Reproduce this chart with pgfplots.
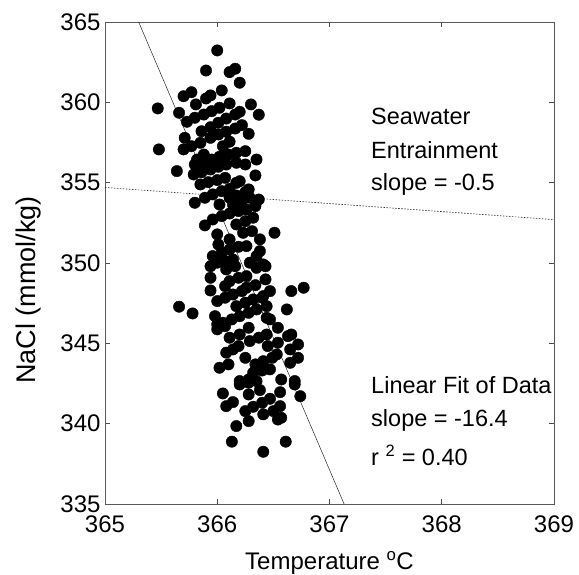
\documentclass[border=0pt]{standalone}
\usepackage{fontspec}
\setmainfont{Liberation Sans}
\usepackage{pgfplots}
\pgfplotsset{compat=1.18}
\begin{document}
\begin{tikzpicture}
\path[use as bounding box] (-105pt,-71pt) rectangle (474pt,504pt);
\begin{axis}[
  scale only axis, width=449pt, height=482pt,
  xmin=365, xmax=369, ymin=335, ymax=365,
  xtick={365,366,367,368,369}, ytick={335,340,345,350,355,360,365},
  tick align=inside, major tick length=5pt,
  axis line style={black!65, line width=0.6pt},
  tick style={black!70, line width=0.6pt},
  /pgf/number format/assume math mode=true,
  /pgf/number format/set thousands separator={},
  tick label style={font=\fontsize{24}{28}\selectfont},
  xticklabel style={yshift=-8pt},
  yticklabel style={xshift=-1pt},
  label style={font=\fontsize{24}{28}\selectfont},
  xlabel={Temperature \textsuperscript{o}C},
  ylabel={NaCl (mmol/kg)},
  xlabel style={at={(axis description cs:0.5,-0.122)}, anchor=center},
  ylabel style={at={(axis description cs:-0.171,0.444)}, anchor=center, font=\fontsize{27}{30}\selectfont},
  clip=true,
]
\addplot[only marks, mark=*, mark size=5.7pt, mark options={fill=black, draw=black}] coordinates {
(366.00,363.23) (365.90,361.98) (366.11,361.88) (366.16,362.09) (366.20,361.22)
(366.04,360.74) (365.70,360.38) (365.77,360.63) (365.90,360.24) (365.94,360.43)
(365.81,359.87) (365.47,359.62) (365.66,359.35) (366.30,359.87) (366.37,359.23)
(365.73,358.79) (365.80,359.04) (365.88,359.24) (365.95,359.45) (366.02,359.66) (366.11,359.93)
(365.86,358.20) (365.94,358.45) (366.01,358.73) (366.08,358.99) (366.16,359.24) (366.20,359.41)
(366.28,358.04)
(365.70,357.07) (365.77,357.27) (365.85,357.48) (365.94,357.79) (366.01,358.00) (366.08,358.17) (366.16,358.37) (366.22,358.58)
(365.48,357.07) (366.11,357.55) (366.05,357.27) (365.71,357.79)
(365.88,356.75) (365.82,356.44)
(365.80,356.13) (365.88,356.28) (365.95,356.44) (366.02,356.61) (366.10,356.75) (366.17,356.86) (366.25,356.96)
(365.64,355.72)
(365.79,355.51) (365.86,355.65) (365.94,355.82) (366.01,355.99) (366.08,356.13) (366.17,356.24) (366.25,356.13)
(366.35,356.44) (366.34,355.45)
(365.85,354.89) (365.92,355.03) (366.00,355.16) (366.07,355.30)
(366.17,354.99) (366.20,355.09)
(365.89,354.06) (365.96,354.27) (366.04,354.47) (366.11,354.62)
(366.11,354.06) (366.17,354.20) (366.25,354.41) (366.28,354.58)
(365.80,353.75) (366.02,353.64)
(366.14,353.64) (366.22,353.85) (366.29,354.06) (366.37,353.95)
(365.96,352.71) (366.04,352.92) (366.11,353.08) (366.19,353.23) (366.26,353.33) (366.34,353.54)
(365.89,352.34)
(366.17,352.40) (366.25,352.60) (366.32,352.82)
(366.00,351.78) (366.01,351.15) (366.11,351.47)
(366.23,351.88) (366.31,351.98) (366.38,351.47) (366.51,351.88)
(365.96,350.43) (366.04,350.64) (366.11,350.84) (366.19,351.01) (366.26,351.05)
(366.35,350.43) (366.38,350.74)
(366.00,350.02) (366.07,350.12) (366.14,350.22)
(366.29,350.02) (366.41,349.91)
(365.94,349.80) (366.08,349.60) (366.16,349.80) (366.35,349.70) (366.43,349.80)
(365.94,349.08) (365.94,348.29)
(366.11,348.87) (366.19,349.08) (366.26,349.18)
(366.07,348.56)
(366.26,348.46) (366.34,348.62) (366.43,348.98)
(366.00,347.63) (366.07,347.84) (366.14,348.04) (366.22,348.25)
(366.47,348.25) (366.41,347.94)
(366.66,348.25) (366.77,348.46)
(366.62,347.11)
(365.66,347.28) (365.78,346.86)
(366.17,347.31) (366.25,347.53) (366.32,347.73) (366.40,347.84)
(366.44,347.31)
(365.98,346.69) (366.00,346.18)
(366.05,346.28) (366.13,346.49) (366.20,346.69) (366.28,346.90) (366.35,347.11)
(366.44,346.59) (366.47,346.49)
(366.54,345.97) (366.28,345.97)
(366.00,345.87) (366.07,346.07)
(366.11,345.35) (366.20,345.55)
(366.29,345.14) (366.37,345.35)
(366.44,345.55)
(366.45,344.83) (366.54,345.04) (366.63,345.45) (366.66,345.55)
(366.72,344.93) (366.65,344.62)
(366.08,344.42) (366.14,344.62) (366.19,344.83)
(366.25,344.10) (366.53,344.31)
(366.34,343.69) (366.41,343.89) (366.49,344.10)
(366.72,344.10) (366.65,343.79)
(366.02,343.48) (366.10,343.69)
(366.32,343.17) (366.40,343.31) (366.47,343.38)
(366.57,342.75) (366.69,342.65)
(366.20,342.65) (366.28,342.75)
(366.20,342.44) (366.28,342.55) (366.35,342.65)
(366.69,342.44) (366.74,341.71)
(366.05,341.88) (366.14,341.34) (366.08,341.09)
(366.28,341.82) (366.38,342.09) (366.56,341.96)
(366.25,340.78) (366.32,341.05) (366.40,341.30) (366.47,341.55)
(366.56,341.09) (366.50,340.78)
(366.41,340.58) (366.28,340.16)
(366.54,340.26) (366.57,340.37)
(366.17,339.85) (366.13,338.88) (366.61,338.88) (366.41,338.25)
};
\addplot[black!85, line width=0.5pt] coordinates {(365.3,365) (367.13,335)};
\addplot[black!85, line width=0.6pt, dash pattern=on 1.5pt off 1.5pt] coordinates {(365,354.7) (369,352.7)};
\node[anchor=west, inner sep=0pt, font=\fontsize{23.5}{28}\selectfont] at (axis cs:367.37,359.1) {Seawater};
\node[anchor=west, inner sep=0pt, font=\fontsize{23.5}{28}\selectfont] at (axis cs:367.37,357.0) {Entrainment};
\node[anchor=west, inner sep=0pt, font=\fontsize{23.5}{28}\selectfont] at (axis cs:367.37,354.9) {slope = -0.5};
\node[anchor=west, inner sep=0pt, font=\fontsize{23.5}{28}\selectfont] at (axis cs:367.37,342.4) {Linear Fit of Data};
\node[anchor=west, inner sep=0pt, font=\fontsize{23.5}{28}\selectfont] at (axis cs:367.37,340.2) {slope = -16.4};
\node[anchor=west, inner sep=0pt, font=\fontsize{23.5}{28}\selectfont] at (axis cs:367.37,338.0) {r \textsuperscript{2} = 0.40};
\end{axis}
\end{tikzpicture}
\end{document}
